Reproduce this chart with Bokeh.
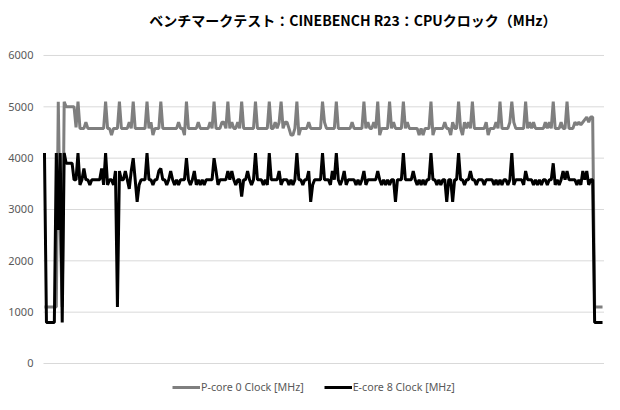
from bokeh.plotting import figure
from bokeh.models import Range1d, Legend, LegendItem
from bokeh.core.properties import value
from bokeh.embed import file_html
from bokeh.resources import INLINE

title_text = "ベンチマークテスト：CINEBENCH R23：CPUクロック（MHz）"
series_names = ["P-core 0 Clock [MHz]", "E-core 8 Clock [MHz]"]
y_ticks = [0, 1000, 2000, 3000, 4000, 5000, 6000]

p_core = [
    1100, 1100, 1100, 1100, 1100, 1100, 1100, 5100, 2600, 1100,
    5100, 5000, 5000, 5000, 5000, 5000, 4600, 5100, 4580, 4580,
    4580, 4700, 4580, 4580, 4580, 4580, 4580, 4580, 4580, 4580,
    4580, 5100, 4580, 4580, 4450, 4580, 4580, 4580, 5100, 4580,
    4580, 4580, 4580, 4700, 4580, 5100, 4580, 4580, 4580, 4580,
    4580, 4580, 5100, 4580, 4700, 4450, 4580, 4580, 4580, 5100,
    4580, 4580, 4580, 4580, 4580, 4580, 4580, 4580, 4700, 4580,
    4580, 4450, 5100, 4580, 4580, 4580, 4580, 4580, 4700, 4580,
    4580, 4580, 4580, 4580, 4700, 4580, 5100, 4580, 4580, 4580,
    4700, 4700, 4580, 5100, 4580, 4700, 4580, 4580, 4700, 4580,
    5100, 4580, 4580, 4580, 4580, 4580, 4580, 5100, 4580, 4580,
    4580, 4580, 4580, 4580, 5100, 4580, 4580, 4700, 4580, 4700,
    5100, 4580, 4700, 4700, 4580, 4450, 4450, 4580, 5100, 4450,
    4580, 4580, 4580, 4580, 4700, 4580, 4580, 4580, 4580, 4580,
    4580, 5100, 4700, 4580, 4580, 4580, 4580, 4580, 5100, 4580,
    4580, 4580, 4580, 4580, 4580, 4580, 4700, 4580, 4580, 4580,
    4580, 4580, 5100, 4580, 4700, 4580, 4580, 4700, 4580, 5100,
    4450, 4580, 4580, 4580, 4580, 5100, 4580, 4700, 4580, 4580,
    4580, 4580, 5100, 4580, 4700, 4580, 4580, 4580, 4580, 4580,
    4450, 4580, 4450, 4580, 4580, 4580, 5100, 4450, 4580, 4580,
    4580, 4580, 4580, 4700, 4580, 4580, 4450, 4700, 4580, 4580,
    5100, 4580, 4450, 4700, 4580, 4700, 4580, 5100, 4580, 4580,
    4580, 4580, 4580, 4580, 4700, 4450, 4580, 4580, 4580, 4700,
    4580, 5100, 4580, 4580, 4580, 4580, 4700, 5100, 4700, 4580,
    4580, 4580, 4580, 4580, 5100, 4580, 4700, 4580, 4700, 4580,
    4580, 4580, 4580, 4580, 4700, 4580, 4700, 4580, 5100, 4580,
    4580, 4580, 4700, 4580, 4580, 5100, 4580, 4580, 4580, 4700,
    4650, 4700, 4650, 4700, 4750, 4800, 4700, 4800, 4800, 1100,
    1100, 1100, 1100, 1100,
]

e_core = [
    4100, 800, 800, 800, 800, 800, 4100, 2600, 4100, 800,
    4100, 3900, 3900, 3900, 3900, 3580, 3580, 4100, 3480, 3580,
    3800, 3580, 3580, 3480, 3580, 3580, 3580, 3580, 3580, 3800,
    3480, 4100, 3480, 3580, 3580, 3480, 3750, 1100, 3750, 3580,
    3580, 3750, 3580, 3400, 3750, 4000, 3580, 3150, 3480, 3580,
    3580, 3580, 4100, 3580, 3580, 3480, 3580, 3580, 3750, 3800,
    3580, 3580, 3480, 3580, 3750, 3580, 3480, 3580, 3480, 3580,
    3580, 3580, 4000, 3580, 3480, 3580, 3750, 3480, 3580, 3480,
    3580, 3480, 3580, 3580, 3580, 3580, 4000, 3750, 3480, 3580,
    3580, 3580, 3580, 3750, 3580, 3750, 3580, 3480, 3580, 3580,
    3250, 3580, 3580, 3750, 3580, 3480, 3580, 4100, 3580, 3580,
    3580, 3480, 3580, 3480, 4100, 3580, 3580, 3580, 3580, 3750,
    3480, 3580, 3580, 3580, 3480, 3580, 3480, 3580, 4100, 3580,
    3580, 3480, 3580, 3580, 3750, 3150, 3480, 3580, 3580, 3580,
    3580, 4100, 3580, 3580, 3580, 3480, 3750, 3580, 4100, 3580,
    3480, 3580, 3750, 3480, 3580, 3580, 3580, 3580, 3480, 3580,
    3480, 3580, 3750, 3480, 3580, 3580, 3580, 3580, 3580, 3750,
    3580, 3480, 3580, 3480, 3580, 3480, 3580, 3580, 3150, 3580,
    3580, 3580, 4100, 3580, 3580, 3580, 3580, 3750, 3580, 3480,
    3580, 3480, 3580, 3480, 3580, 3580, 4100, 3580, 3580, 3480,
    3580, 3480, 3580, 3580, 3150, 3580, 3580, 3150, 3580, 3580,
    4100, 3580, 3580, 3480, 3580, 3580, 3750, 3580, 3580, 3480,
    3580, 3580, 3580, 3480, 3580, 3580, 3580, 3580, 3480, 3580,
    3480, 3580, 3480, 3580, 3580, 3480, 3580, 4100, 3480, 3580,
    3580, 3580, 3580, 3480, 3750, 3580, 3580, 3580, 3480, 3580,
    3480, 3580, 3480, 3580, 3580, 3480, 3580, 3580, 3900, 3480,
    3580, 3480, 3580, 3750, 3580, 3750, 3580, 3580, 3580, 3580,
    3480, 3580, 3480, 3750, 3580, 3750, 3480, 3580, 3580, 800,
    800, 800, 800, 800,
]

samples = list(range(len(p_core)))
n = len(samples)

# frame covers the whole canvas; the plot area spans samples -0.5 .. n
p = figure(width=604, height=394, output_backend="svg", toolbar_location=None,
           x_axis_location=None, y_axis_location=None,
           min_border_left=0, min_border_right=0, min_border_top=0, min_border_bottom=0,
           x_range=Range1d(-22.3, n), y_range=Range1d(-604, 7071))
p.outline_line_color = None
p.grid.visible = False

# horizontal gridlines at the tick values, spanning the plot area
p.segment(x0=[-0.5] * len(y_ticks), y0=y_ticks, x1=[n] * len(y_ticks), y1=y_ticks,
          line_color="#d9d9d9", line_width=1)

# y tick labels
p.text(x=[-5.6] * len(y_ticks), y=y_ticks, text=[str(t) for t in y_ticks],
       text_align="right", text_baseline="middle",
       text_font=value("Noto Sans"), text_font_size="11px", text_color="#595959")

# title
p.text(x=[156.4], y=[6682], text=[title_text], text_align="center", text_baseline="middle",
       text_font=value("Noto Sans CJK JP"), text_font_style="bold",
       text_font_size="14px", text_color="#000000")

r1 = p.line(samples, p_core, line_color="#7f7f7f", line_width=3)
r2 = p.line(samples, e_core, line_color="#000000", line_width=3)

legend = Legend(items=[LegendItem(label=series_names[0], renderers=[r1]),
                       LegendItem(label=series_names[1], renderers=[r2])],
                orientation="horizontal", location=(172, 0),
                glyph_width=28, glyph_height=12, label_height=12,
                label_standoff=1, spacing=20,
                padding=0, margin=0,
                border_line_color=None, background_fill_alpha=0,
                label_text_font="Noto Sans", label_text_font_size="10.7px",
                label_text_color="#595959")
p.add_layout(legend, "center")

open("out.html", "w").write(file_html(p, INLINE))
